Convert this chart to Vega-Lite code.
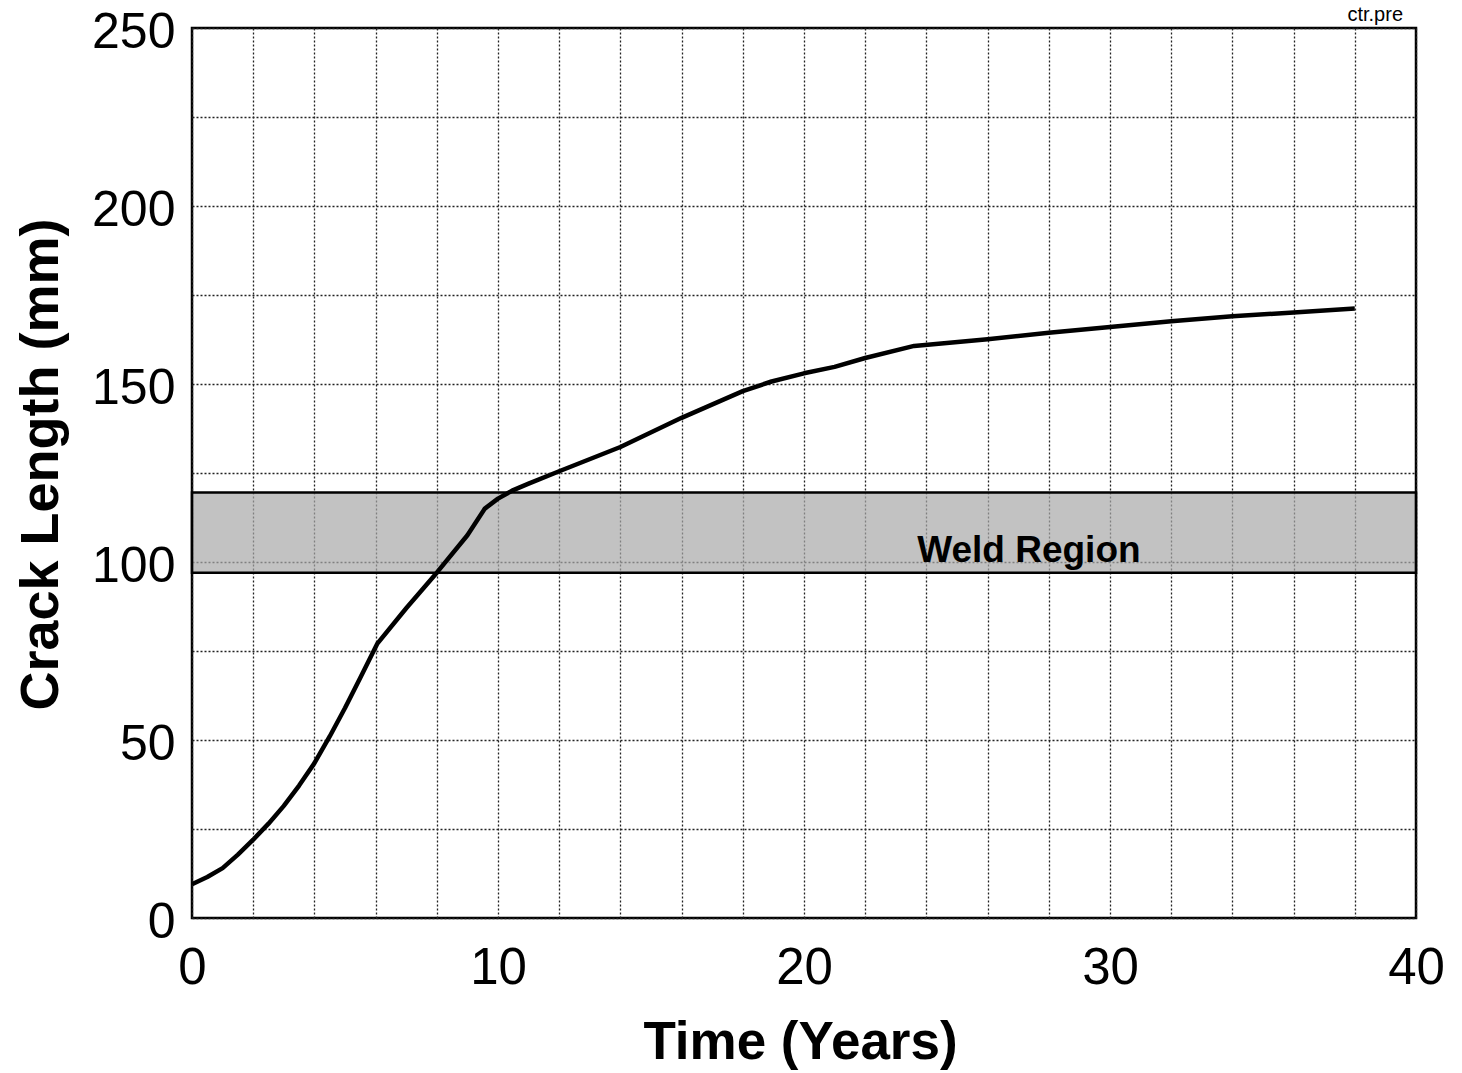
{
  "$schema": "https://vega.github.io/schema/vega-lite/v6.json",
  "width": 1224,
  "height": 890,
  "autosize": {"type": "none"},
  "padding": {"left": 192, "top": 28, "right": 46, "bottom": 155},
  "background": "white",
  "config": {
    "font": "Liberation Sans",
    "view": {"stroke": "black", "strokeWidth": 2.5}
  },
  "datasets": {
    "curve": [
      {"time": 0, "crack": 9.5},
      {"time": 0.5, "crack": 11.5},
      {"time": 1, "crack": 14},
      {"time": 1.5, "crack": 17.8},
      {"time": 2, "crack": 22},
      {"time": 2.5, "crack": 26.5},
      {"time": 3, "crack": 31.5},
      {"time": 3.5, "crack": 37.2},
      {"time": 4, "crack": 43.5},
      {"time": 4.5, "crack": 51},
      {"time": 5, "crack": 59},
      {"time": 5.5, "crack": 67.5},
      {"time": 6.05, "crack": 77},
      {"time": 7, "crack": 87},
      {"time": 8, "crack": 97},
      {"time": 9, "crack": 107.5},
      {"time": 9.57, "crack": 115},
      {"time": 10, "crack": 117.8},
      {"time": 10.5, "crack": 120.2},
      {"time": 11, "crack": 122},
      {"time": 12, "crack": 125.5},
      {"time": 14, "crack": 132.3},
      {"time": 16, "crack": 140.5},
      {"time": 18, "crack": 148},
      {"time": 18.94, "crack": 150.7},
      {"time": 20, "crack": 153},
      {"time": 21, "crack": 154.8},
      {"time": 22, "crack": 157.3},
      {"time": 23.6, "crack": 160.7},
      {"time": 26, "crack": 162.6},
      {"time": 28, "crack": 164.4},
      {"time": 30, "crack": 166},
      {"time": 32, "crack": 167.6},
      {"time": 34, "crack": 169},
      {"time": 36, "crack": 170.1},
      {"time": 38, "crack": 171.2}
    ],
    "weld": [
      {"region": "Weld Region", "t0": 0, "t1": 40, "low": 97, "high": 119.5}
    ],
    "note": [
      {"text": "ctr.pre"}
    ]
  },
  "layer": [
    {
      "data": {"name": "weld"},
      "mark": {"type": "rect", "fill": "#a8a8a8", "fillOpacity": 0.7, "stroke": "black", "strokeWidth": 2.5},
      "encoding": {
        "x": {"field": "t0", "type": "quantitative", "title": "Time (Years)"},
        "x2": {"field": "t1"},
        "y": {"field": "low", "type": "quantitative", "title": "Crack Length (mm)"},
        "y2": {"field": "high"}
      }
    },
    {
      "data": {"name": "curve"},
      "mark": {"type": "line", "color": "black", "strokeWidth": 4.5, "interpolate": "linear", "strokeJoin": "round"},
      "encoding": {
        "x": {
          "field": "time",
          "type": "quantitative",
          "title": "Time (Years)",
          "scale": {"domain": [0, 40], "nice": false},
          "axis": {
            "values": [0, 2, 4, 6, 8, 10, 12, 14, 16, 18, 20, 22, 24, 26, 28, 30, 32, 34, 36, 38, 40],
            "labelExpr": "datum.value % 10 === 0 ? datum.label : ''",
            "grid": true,
            "gridColor": "#222",
            "gridDash": [2, 2],
            "gridWidth": 1.3,
            "domain": false,
            "ticks": false,
            "tickSize": 0,
            "labelFlush": false,
            "labelOverlap": false,
            "labelFontSize": 51,
            "labelColor": "black",
            "labelBaseline": "alphabetic",
            "labelPadding": 65,
            "titleFontSize": 53,
            "titleFontWeight": "bold",
            "titleColor": "black",
            "titleBaseline": "alphabetic",
            "titleX": 608,
            "titleY": 140
          }
        },
        "y": {
          "field": "crack",
          "type": "quantitative",
          "title": "Crack Length (mm)",
          "scale": {"domain": [0, 250], "nice": false},
          "axis": {
            "values": [0, 25, 50, 75, 100, 125, 150, 175, 200, 225, 250],
            "labelExpr": "datum.value % 50 === 0 ? datum.label : ''",
            "grid": true,
            "gridColor": "#222",
            "gridDash": [2, 2],
            "gridWidth": 1.3,
            "domain": false,
            "ticks": false,
            "tickSize": 0,
            "labelFlush": false,
            "labelOverlap": false,
            "labelFontSize": 50,
            "labelColor": "black",
            "labelAlign": "right",
            "labelBaseline": "middle",
            "labelOffset": 4,
            "labelPadding": 17,
            "titleFontSize": 54,
            "titleFontWeight": "bold",
            "titleColor": "black",
            "titleAngle": 270,
            "titleBaseline": "alphabetic",
            "titleX": -135,
            "titleY": 436
          }
        }
      }
    },
    {
      "data": {"name": "weld"},
      "mark": {"type": "text", "fontSize": 37, "fontWeight": "bold", "color": "black", "align": "left", "baseline": "alphabetic"},
      "encoding": {
        "text": {"field": "region"},
        "x": {"datum": 23.7, "type": "quantitative", "title": "Time (Years)"},
        "y": {"datum": 100, "type": "quantitative", "title": "Crack Length (mm)"}
      }
    },
    {
      "data": {"name": "note"},
      "mark": {"type": "text", "fontSize": 20, "color": "black", "align": "right", "baseline": "alphabetic", "dx": -13, "dy": -7},
      "encoding": {
        "text": {"field": "text"},
        "x": {"datum": 40, "type": "quantitative", "title": "Time (Years)"},
        "y": {"datum": 250, "type": "quantitative", "title": "Crack Length (mm)"}
      }
    }
  ]
}
